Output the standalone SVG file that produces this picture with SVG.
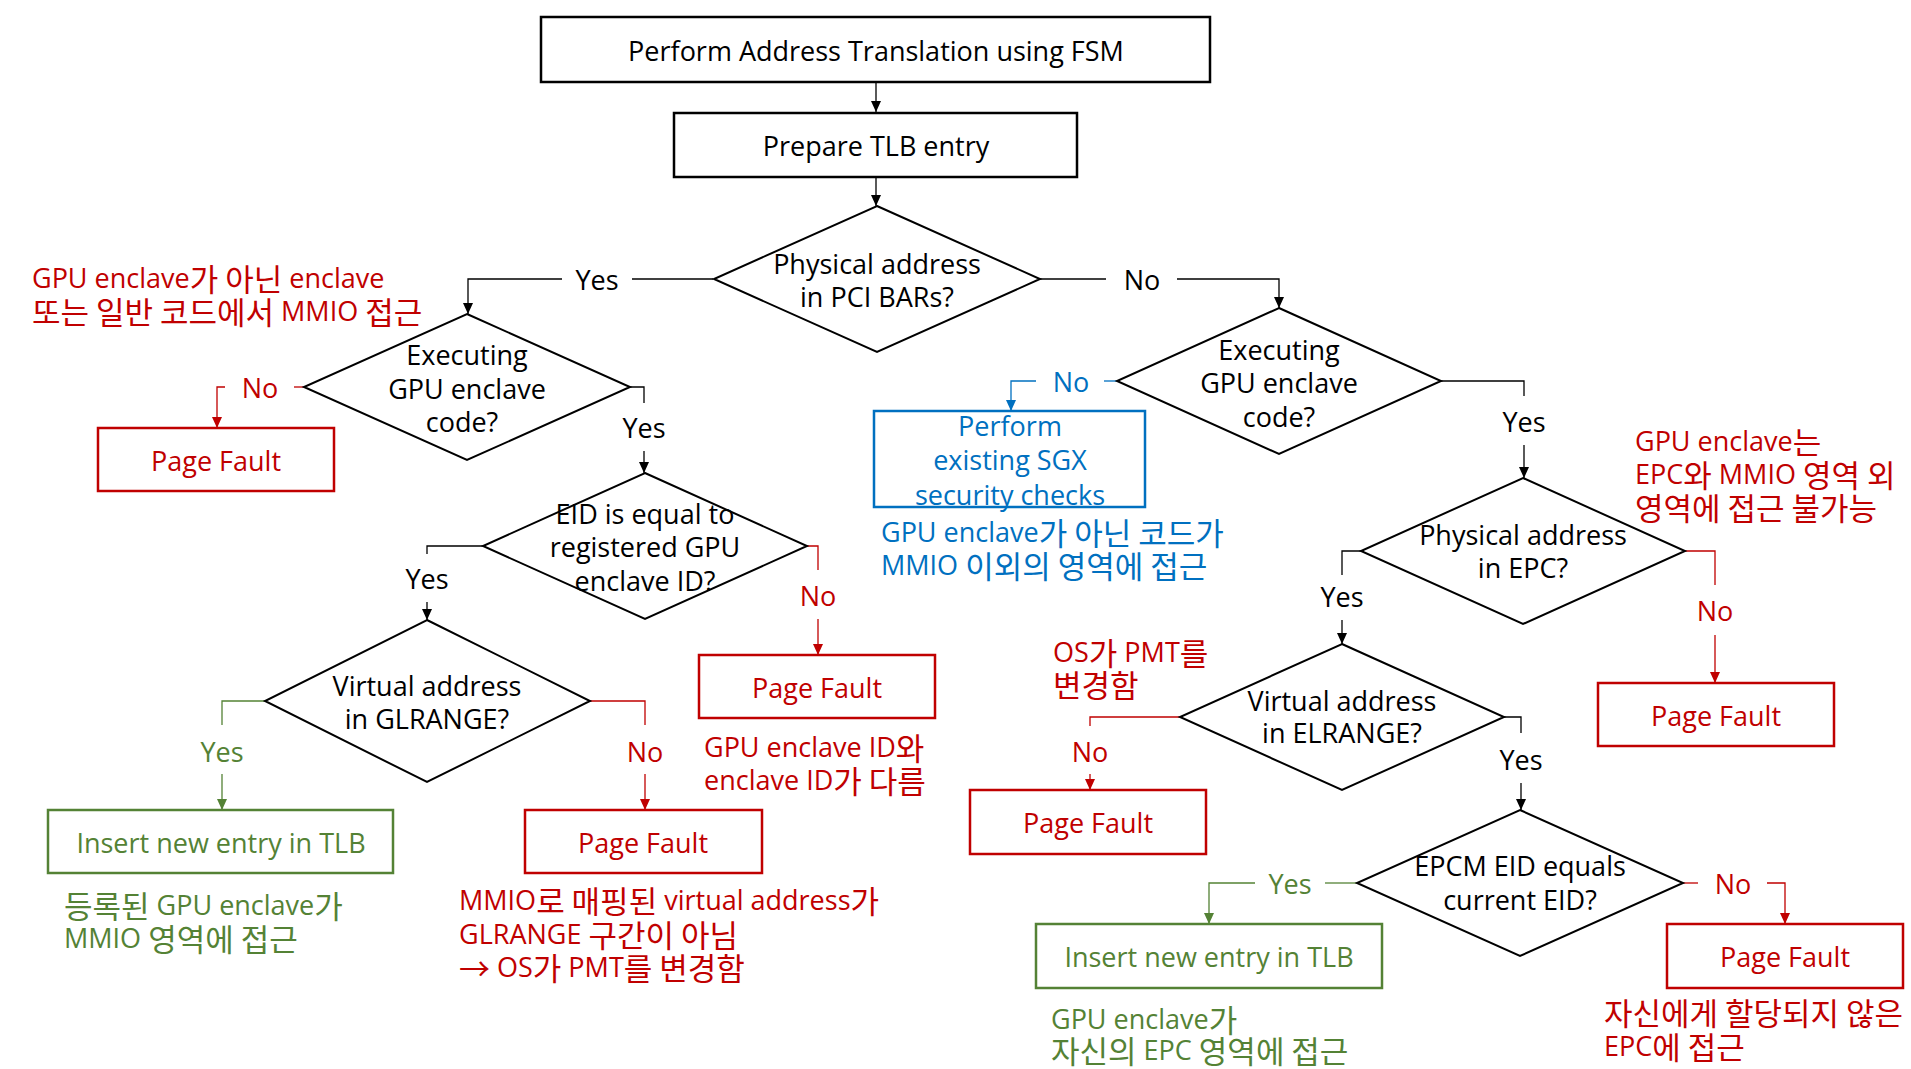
<svg xmlns="http://www.w3.org/2000/svg" width="1911" height="1069" viewBox="0 0 1911 1069">
<defs>
<style>
text{font-family:"Open Sans","Noto Sans CJK KR",sans-serif;font-size:27px;dominant-baseline:central}
.h{font-family:"Noto Sans CJK KR",sans-serif;font-size:31px}
.c{text-anchor:middle}
.k{fill:#000}
.r{fill:#C00000}
.g{fill:#548235}
.b{fill:#0070C0}
.box{fill:#fff;stroke:#000;stroke-width:2.5}
.rbox{fill:#fff;stroke:#C00000;stroke-width:2.5}
.gbox{fill:#fff;stroke:#548235;stroke-width:2.5}
.bbox{fill:#fff;stroke:#0070C0;stroke-width:2.5}
.dia{fill:#fff;stroke:#000;stroke-width:2}
.lk{fill:none;stroke:#000;stroke-width:1.3}
.lr{fill:none;stroke:#C00000;stroke-width:1.3}
.lg{fill:none;stroke:#548235;stroke-width:1.3}
.lb{fill:none;stroke:#0070C0;stroke-width:1.3}
</style>
<marker id="ak" markerUnits="userSpaceOnUse" markerWidth="11" markerHeight="10" refX="11" refY="5" orient="auto"><path d="M0,0 L11,5 L0,10 z" fill="#000"/></marker>
<marker id="ar" markerUnits="userSpaceOnUse" markerWidth="11" markerHeight="10" refX="11" refY="5" orient="auto"><path d="M0,0 L11,5 L0,10 z" fill="#C00000"/></marker>
<marker id="ag" markerUnits="userSpaceOnUse" markerWidth="11" markerHeight="10" refX="11" refY="5" orient="auto"><path d="M0,0 L11,5 L0,10 z" fill="#548235"/></marker>
<marker id="ab" markerUnits="userSpaceOnUse" markerWidth="11" markerHeight="10" refX="11" refY="5" orient="auto"><path d="M0,0 L11,5 L0,10 z" fill="#0070C0"/></marker>
</defs>
<rect width="1911" height="1069" fill="#fff"/>

<g id="connectors">
<polyline class="lk" points="876,82 876,112" marker-end="url(#ak)"/>
<polyline class="lk" points="876,177 876,206" marker-end="url(#ak)"/>
<polyline class="lk" points="713,279 632,279"/>
<polyline class="lk" points="562,279 468,279 468,314" marker-end="url(#ak)"/>
<polyline class="lk" points="1039,279 1106,279"/>
<polyline class="lk" points="1177,279 1279,279 1279,308" marker-end="url(#ak)"/>
<polyline class="lr" points="304,387 294,387"/>
<polyline class="lr" points="225,387 217,387 217,428" marker-end="url(#ar)"/>
<polyline class="lk" points="630,387 644,387 644,403"/>
<polyline class="lk" points="644,451 644,473" marker-end="url(#ak)"/>
<polyline class="lk" points="483,546 427,546 427,554"/>
<polyline class="lk" points="427,602 427,620" marker-end="url(#ak)"/>
<polyline class="lr" points="807,546 818,546 818,570"/>
<polyline class="lr" points="818,619 818,655" marker-end="url(#ar)"/>
<polyline class="lg" points="265,701 222,701 222,725"/>
<polyline class="lg" points="222,774 222,810" marker-end="url(#ag)"/>
<polyline class="lr" points="590,701 645,701 645,725"/>
<polyline class="lr" points="645,774 645,810" marker-end="url(#ar)"/>
<polyline class="lb" points="1117,381 1104,381"/>
<polyline class="lb" points="1036,381 1011,381 1011,411" marker-end="url(#ab)"/>
<polyline class="lk" points="1441,381 1524,381 1524,396"/>
<polyline class="lk" points="1524,445 1524,478" marker-end="url(#ak)"/>
<polyline class="lk" points="1361,551 1342,551 1342,575"/>
<polyline class="lk" points="1342,620 1342,644" marker-end="url(#ak)"/>
<polyline class="lr" points="1685,551 1715,551 1715,585"/>
<polyline class="lr" points="1715,635 1715,683" marker-end="url(#ar)"/>
<polyline class="lr" points="1180,717 1090,717 1090,726"/>
<polyline class="lr" points="1090,774 1090,790" marker-end="url(#ar)"/>
<polyline class="lk" points="1504,717 1521,717 1521,733"/>
<polyline class="lk" points="1521,783 1521,810" marker-end="url(#ak)"/>
<polyline class="lg" points="1357,883 1325,883"/>
<polyline class="lg" points="1255,883 1209,883 1209,924" marker-end="url(#ag)"/>
<polyline class="lr" points="1683,883 1698,883"/>
<polyline class="lr" points="1767,883 1785,883 1785,924" marker-end="url(#ar)"/>
<text class="c k" x="597" y="279">Yes</text>
<text class="c k" x="1142" y="279">No</text>
<text class="c r" x="260" y="387">No</text>
<text class="c k" x="644" y="427">Yes</text>
<text class="c k" x="427" y="578">Yes</text>
<text class="c r" x="818" y="595">No</text>
<text class="c g" x="222" y="751">Yes</text>
<text class="c r" x="645" y="751">No</text>
<text class="c b" x="1071" y="381">No</text>
<text class="c k" x="1524" y="421">Yes</text>
<text class="c k" x="1342" y="596">Yes</text>
<text class="c r" x="1715" y="610">No</text>
<text class="c r" x="1090" y="751">No</text>
<text class="c k" x="1521" y="759">Yes</text>
<text class="c g" x="1290" y="883">Yes</text>
<text class="c r" x="1733" y="883">No</text>
</g>

<g id="start">
<rect class="box" x="541" y="17" width="669" height="65"/>
<text class="c k" x="876" y="50">Perform Address Translation using FSM</text>
</g>
<g id="prepare">
<rect class="box" x="674" y="113" width="403" height="64"/>
<text class="c k" x="876" y="145">Prepare TLB entry</text>
</g>
<g id="d-pci">
<polygon class="dia" points="877,206 1040,279 877,352 714,279"/>
<text class="c k" x="877" y="263">Physical address</text>
<text class="c k" x="877" y="296">in PCI BARs?</text>
</g>
<g id="d-exec-left">
<polygon class="dia" points="467,314 630,387 467,460 304,387"/>
<text class="c k" x="467" y="354">Executing</text>
<text class="c k" x="467" y="388">GPU enclave</text>
<text class="c k" x="462" y="421">code?</text>
</g>
<g id="pf1">
<rect class="rbox" x="98" y="428" width="236" height="63"/>
<text class="c r" x="216" y="460">Page Fault</text>
</g>
<g id="d-eid">
<polygon class="dia" points="645,473 807,546 645,619 483,546"/>
<text class="c k" x="645" y="513">EID is equal to</text>
<text class="c k" x="645" y="546">registered GPU</text>
<text class="c k" x="645" y="580">enclave ID?</text>
</g>
<g id="pf2">
<rect class="rbox" x="699" y="655" width="236" height="63"/>
<text class="c r" x="817" y="687">Page Fault</text>
</g>
<g id="d-glrange">
<polygon class="dia" points="427,620 590,701 427,782 265,701"/>
<text class="c k" x="427" y="685">Virtual address</text>
<text class="c k" x="427" y="718">in GLRANGE?</text>
</g>
<g id="insert1">
<rect class="gbox" x="48" y="810" width="345" height="63"/>
<text class="c g" x="221" y="842">Insert new entry in TLB</text>
</g>
<g id="pf3">
<rect class="rbox" x="525" y="810" width="237" height="63"/>
<text class="c r" x="643" y="842">Page Fault</text>
</g>
<g id="d-exec-right">
<polygon class="dia" points="1279,308 1441,381 1279,454 1117,381"/>
<text class="c k" x="1279" y="349">Executing</text>
<text class="c k" x="1279" y="382">GPU enclave</text>
<text class="c k" x="1279" y="416">code?</text>
</g>
<g id="sgx">
<rect class="bbox" x="874" y="411" width="271" height="96"/>
<text class="c b" x="1010" y="425">Perform</text>
<text class="c b" x="1010" y="459">existing SGX</text>
<text class="c b" x="1010" y="494">security checks</text>
</g>
<g id="d-epc">
<polygon class="dia" points="1523,478 1685,551 1523,624 1361,551"/>
<text class="c k" x="1523" y="534">Physical address</text>
<text class="c k" x="1523" y="567">in EPC?</text>
</g>
<g id="pf5">
<rect class="rbox" x="1598" y="683" width="236" height="63"/>
<text class="c r" x="1716" y="715">Page Fault</text>
</g>
<g id="d-elrange">
<polygon class="dia" points="1342,644 1504,717 1342,790 1180,717"/>
<text class="c k" x="1342" y="700">Virtual address</text>
<text class="c k" x="1342" y="732">in ELRANGE?</text>
</g>
<g id="pf4">
<rect class="rbox" x="970" y="790" width="236" height="64"/>
<text class="c r" x="1088" y="822">Page Fault</text>
</g>
<g id="d-epcm">
<polygon class="dia" points="1520,810 1683,883 1520,956 1357,883"/>
<text class="c k" x="1520" y="865">EPCM EID equals</text>
<text class="c k" x="1520" y="899">current EID?</text>
</g>
<g id="insert2">
<rect class="gbox" x="1036" y="924" width="346" height="64"/>
<text class="c g" x="1209" y="956">Insert new entry in TLB</text>
</g>
<g id="pf6">
<rect class="rbox" x="1667" y="924" width="236" height="64"/>
<text class="c r" x="1785" y="956">Page Fault</text>
</g>

<g id="notes">
<text class="r" x="32" y="277">GPU enclave<tspan class="h">가 아닌</tspan> enclave</text>
<text class="r" x="32" y="310"><tspan class="h">또는 일반 코드에서</tspan> MMIO <tspan class="h">접근</tspan></text>
<text class="r" x="704" y="746">GPU enclave ID<tspan class="h">와</tspan></text>
<text class="r" x="704" y="779">enclave ID<tspan class="h">가 다름</tspan></text>
<text class="g" x="64" y="904"><tspan class="h">등록된</tspan> GPU enclave<tspan class="h">가</tspan></text>
<text class="g" x="64" y="937">MMIO <tspan class="h">영역에 접근</tspan></text>
<text class="r" x="459" y="899">MMIO<tspan class="h">로 매핑된</tspan> virtual address<tspan class="h">가</tspan></text>
<text class="r" x="459" y="933">GLRANGE <tspan class="h">구간이 아님</tspan></text>
<text class="r" x="459" y="966"><tspan class="h">→</tspan> OS<tspan class="h">가</tspan> PMT<tspan class="h">를 변경함</tspan></text>
<text class="b" x="881" y="531">GPU enclave<tspan class="h">가 아닌 코드가</tspan></text>
<text class="b" x="881" y="564">MMIO <tspan class="h">이외의 영역에 접근</tspan></text>
<text class="r" x="1635" y="440">GPU enclave<tspan class="h">는</tspan></text>
<text class="r" x="1635" y="473">EPC<tspan class="h">와</tspan> MMIO <tspan class="h">영역 외</tspan></text>
<text class="r" x="1635" y="506"><tspan class="h">영역에 접근 불가능</tspan></text>
<text class="r" x="1053" y="651">OS<tspan class="h">가</tspan> PMT<tspan class="h">를</tspan></text>
<text class="r" x="1053" y="683"><tspan class="h">변경함</tspan></text>
<text class="g" x="1051" y="1018">GPU enclave<tspan class="h">가</tspan></text>
<text class="g" x="1051" y="1049"><tspan class="h">자신의</tspan> EPC <tspan class="h">영역에 접근</tspan></text>
<text class="r" x="1604" y="1011"><tspan class="h">자신에게 할당되지 않은</tspan></text>
<text class="r" x="1604" y="1045">EPC<tspan class="h">에 접근</tspan></text>
</g>
</svg>
